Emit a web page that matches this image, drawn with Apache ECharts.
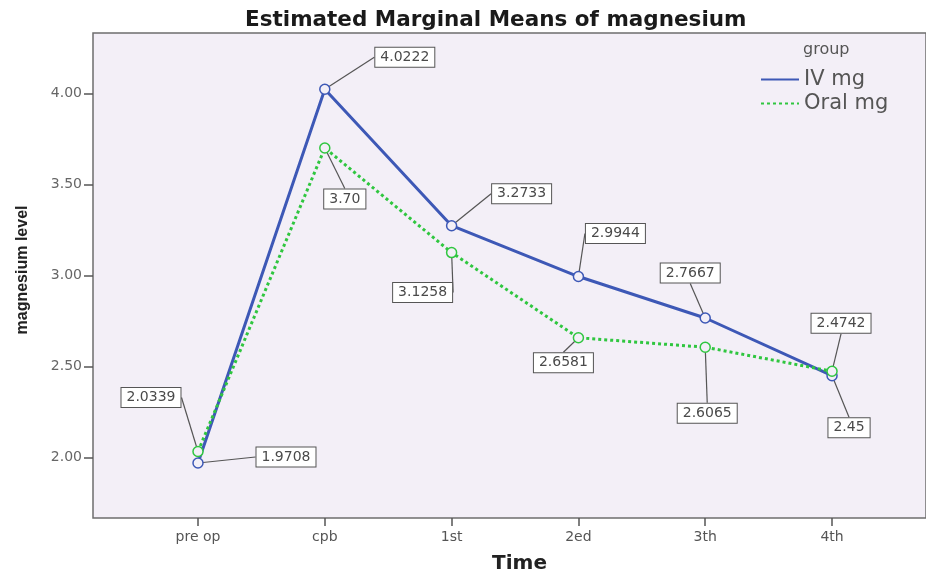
<!DOCTYPE html>
<html>
<head>
<meta charset="utf-8">
<script src="https://cdn.jsdelivr.net/npm/echarts@6/dist/echarts.min.js"></script>
<style>html,body{margin:0;padding:0;background:#fff;}#chart{width:926px;height:571px;}</style>
</head>
<body>
<div id="chart"></div>
<script>
const categories = ['pre op', 'cpb', '1st', '2ed', '3th', '4th'];
const ivMg = [1.9708, 4.0222, 3.2733, 2.9944, 2.7667, 2.45];
const oralMg = [2.0339, 3.70, 3.1258, 2.6581, 2.6065, 2.4742];
const yTicks = [2.0, 2.5, 3.0, 3.5, 4.0];
const seriesNames = ['IV mg', 'Oral mg'];

// label box offsets (pixels, relative to the point)
const ivLabelOffset = [[88, -6], [80, -32], [70, -32], [37, -43], [-15, -45], [17, 52]];
const oralLabelOffset = [[-47, -54], [20, 51], [-29, 40], [-15, 25], [2, 66], [9, -48]];

const BLUE = '#3d58b6';
const GREEN = '#2fc63f';
const PLOT_BG = '#f3eff7';

const catIdx = categories.map((c, i) => i);
const toPairs = arr => arr.map((v, i) => [i, v]);
const fmtVal = v => {
  const s = String(v);
  const dec = s.indexOf('.') < 0 ? 0 : s.length - s.indexOf('.') - 1;
  return dec <= 2 ? v.toFixed(2) : v.toFixed(4);
};

const labelCommon = {
  show: true,
  position: 'inside',
  formatter: p => fmtVal(p.value[1]),
  backgroundColor: '#ffffff',
  borderColor: '#555555',
  borderWidth: 1,
  padding: [3, 5, 2, 5],
  fontFamily: 'DejaVu Sans',
  fontSize: 14,
  color: '#4a4a4a'
};

const chart = echarts.init(document.getElementById('chart'));
chart.setOption({
  backgroundColor: '#ffffff',
  animation: false,
  title: [
    {
      text: 'Estimated Marginal Means of magnesium',
      left: 240, top: 4,
      textStyle: { fontFamily: 'DejaVu Sans', fontWeight: 'bold', fontSize: 21.5, color: '#1a1a1a' }
    },
    {
      text: 'group',
      left: 798, top: 37,
      textStyle: { fontFamily: 'DejaVu Sans', fontWeight: 'normal', fontSize: 16, color: '#555' }
    }
  ],
  legend: {
    data: seriesNames,
    orient: 'vertical',
    left: 755, top: 64,
    itemWidth: 38, itemHeight: 14, itemGap: 3,
    itemStyle: { opacity: 0 },
    textStyle: { fontFamily: 'DejaVu Sans', fontSize: 21, lineHeight: 19, color: '#555' }
  },
  grid: {
    left: 93, right: 0, top: 33, bottom: 53,
    outerBoundsMode: 'none',
    containLabel: false,
    show: true,
    backgroundColor: PLOT_BG,
    borderColor: '#6e6e6e',
    borderWidth: 1.5
  },
  xAxis: {
    type: 'value',
    min: -0.828, max: 5.741,
    splitLine: { show: false },
    axisLine: { show: false, onZero: false },
    axisTick: { show: true, customValues: catIdx, length: 8, lineStyle: { color: '#555', width: 1.5 } },
    axisLabel: {
      customValues: catIdx,
      formatter: v => categories[Math.round(v)],
      margin: 12,
      fontFamily: 'DejaVu Sans', fontSize: 14, color: '#555'
    },
    name: 'Time',
    nameLocation: 'middle',
    nameGap: 36,
    nameTextStyle: { fontFamily: 'DejaVu Sans', fontWeight: 'bold', fontSize: 20, color: '#222', padding: [0, 0, 0, 20] }
  },
  yAxis: {
    type: 'value',
    min: 1.669, max: 4.331,
    splitLine: { show: false },
    axisLine: { show: false, onZero: false },
    axisTick: { show: true, customValues: yTicks, length: 9, lineStyle: { color: '#555', width: 1.5 } },
    axisLabel: {
      customValues: yTicks,
      formatter: v => v.toFixed(2),
      margin: 11,
      fontFamily: 'DejaVu Sans', fontSize: 14, color: '#666'
    },
    name: 'magnesium level',
    nameLocation: 'middle',
    nameRotate: 90,
    nameGap: 62,
    nameTextStyle: { fontFamily: 'Liberation Sans', fontWeight: 'bold', fontSize: 16, color: '#222', padding: [0, 0, 0, 11] }
  },
  series: [
    {
      name: seriesNames[0],
      type: 'line',
      data: toPairs(ivMg),
      symbol: 'circle',
      symbolSize: 10,
      lineStyle: { color: BLUE, width: 3 },
      itemStyle: { color: PLOT_BG, borderColor: BLUE, borderWidth: 1.5 },
      label: labelCommon,
      labelLine: { show: true, lineStyle: { color: '#555', width: 1.2 } },
      labelLayout: p => ({ dx: ivLabelOffset[p.dataIndex][0], dy: ivLabelOffset[p.dataIndex][1] }),
      z: 3
    },
    {
      name: seriesNames[1],
      type: 'line',
      data: toPairs(oralMg),
      symbol: 'circle',
      symbolSize: 10,
      lineStyle: { color: GREEN, width: 3, type: [3, 3] },
      itemStyle: { color: PLOT_BG, borderColor: GREEN, borderWidth: 1.5 },
      label: labelCommon,
      labelLine: { show: true, lineStyle: { color: '#555', width: 1.2 } },
      labelLayout: p => ({ dx: oralLabelOffset[p.dataIndex][0], dy: oralLabelOffset[p.dataIndex][1] }),
      z: 4
    }
  ]
});
</script>
</body>
</html>
